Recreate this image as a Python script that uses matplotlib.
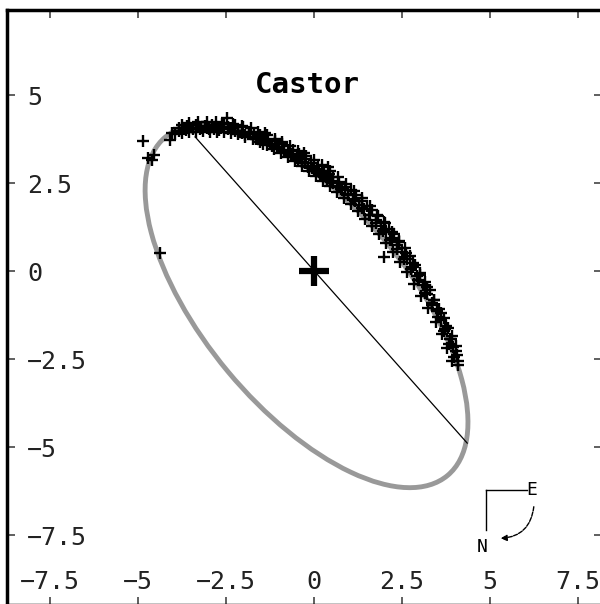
import matplotlib
matplotlib.use("Agg")
import matplotlib.pyplot as plt
from matplotlib.patches import Ellipse, FancyArrowPatch

# ---------------- data ----------------
title = "Castor"
xtick_values = [-7.5, -5, -2.5, 0, 2.5, 5, 7.5]
xtick_labels = ["\u22127.5", "\u22125", "\u22122.5", "0", "2.5", "5", "7.5"]
ytick_values = [-7.5, -5, -2.5, 0, 2.5, 5]
ytick_labels = ["\u22127.5", "\u22125", "\u22122.5", "0", "2.5", "5"]

# observed positions of the companion (arcsec)
obs_x_outer = [-4.86, -4.72, -4.55, -4.62, -4.38,
               -4.03, -4.09, -3.85, -3.70, -3.60, -3.45, -3.35, -3.20, -3.10, -3.00,
               -2.90, -2.80, -2.70, -2.62, -2.47, -2.45, -2.35, -2.25, -2.15, -2.02,
               -1.95, -1.85, -1.72, -1.65, -1.55, -1.45, -1.39, -1.30, -1.20, -1.12,
               -1.00, -0.92, -0.85, -0.75, -0.65, -0.60, -0.50, -0.42, -0.35, -0.25,
               -0.18, -0.08, 0.00, 0.10, 0.18, 0.28, 0.37, 0.42, 0.50, 0.55,
               0.65, 0.72, 0.80, 0.88, 0.95, 1.05, 1.10, 1.18, 1.28, 1.35,
               1.42, 1.50, 1.58, 1.65, 1.75, 1.82, 1.90, 1.98, 2.05, 2.12,
               2.20, 2.28, 2.35, 2.42, 2.50, 2.58, 2.65, 2.72, 2.80, 2.88,
               2.92, 3.00, 3.08, 3.15, 3.22, 3.28, 3.35, 3.42, 3.48, 3.55,
               3.60, 3.68, 3.72, 3.80, 3.85, 3.92, 3.95, 4.02, 4.05, 4.10,
               4.08, 2.00, 0.40, -0.30]
obs_y_outer = [3.69, 3.21, 3.30, 3.15, 0.51,
               3.92, 3.72, 4.05, 4.02, 4.12, 4.05, 4.15, 4.05, 4.12, 4.02,
               4.15, 4.08, 4.00, 4.18, 4.35, 4.10, 4.05, 4.15, 3.98, 4.10,
               3.85, 3.95, 3.90, 3.75, 3.85, 3.62, 3.92, 3.70, 3.55, 3.68,
               3.50, 3.60, 3.38, 3.45, 3.30, 3.45, 3.20, 3.32, 3.10, 3.18,
               2.95, 3.08, 2.88, 2.98, 2.75, 2.85, 2.62, 2.75, 2.55, 2.66,
               2.40, 2.52, 2.30, 2.40, 2.20, 2.30, 2.05, 2.15, 1.88, 2.00,
               1.75, 1.85, 1.60, 1.72, 1.45, 1.55, 1.28, 1.40, 1.10, 1.20,
               0.95, 1.05, 0.75, 0.85, 0.55, 0.65, 0.35, 0.42, 0.10, 0.18,
               -0.15, -0.05, -0.40, -0.30, -0.65, -0.55, -0.90, -0.82, -1.15, -1.08,
               -1.40, -1.35, -1.65, -1.62, -1.92, -1.85, -2.15, -2.12, -2.40, -2.55,
               -2.68, 0.40, 2.95, 3.35]

obs_x_outermost = [-3.75, -3.55, -3.30, -3.05, -2.80, -2.55, -2.30, -2.05, -1.80, -1.58,
                   -1.35, -1.12, -0.90, -0.68, -0.45, -0.22, 0.00, 0.22, 0.45, 0.68,
                   0.90, 1.12, 1.35, 1.58, 1.80, 2.02, 2.22, 2.42, 2.62, 2.82,
                   3.02, 3.22, 3.42, 3.60, 3.76, 3.90, 4.02]
obs_y_outermost = [4.15, 4.20, 4.22, 4.22, 4.22, 4.20, 4.18, 4.12, 4.05, 3.96,
                   3.86, 3.76, 3.66, 3.55, 3.42, 3.28, 3.14, 3.00, 2.84, 2.66,
                   2.48, 2.28, 2.07, 1.84, 1.60, 1.35, 1.10, 0.82, 0.52, 0.22,
                   -0.12, -0.46, -0.82, -1.18, -1.55, -1.92, -2.28]

obs_x_mid = [-3.85, -3.65, -3.45, -3.25, -3.05, -2.85, -2.65, -2.45, -2.25, -2.05,
             -1.85, -1.65, -1.45, -1.25, -1.05, -0.85, -0.65, -0.45, -0.25, -0.05,
             0.15, 0.35, 0.55, 0.75, 0.95, 1.15, 1.35, 1.55, 1.75, 1.95,
             2.15, 2.35, 2.55, 2.75, 2.95, 3.15, 3.35, 3.52, 3.68, 3.84, 3.98]
obs_y_mid = [3.98, 4.00, 4.02, 4.04, 4.05, 4.03, 4.05, 4.02, 3.98, 3.93,
             3.88, 3.80, 3.72, 3.62, 3.52, 3.42, 3.32, 3.19, 3.06, 2.93,
             2.80, 2.66, 2.50, 2.34, 2.17, 1.98, 1.79, 1.58, 1.36, 1.13,
             0.88, 0.62, 0.35, 0.05, -0.27, -0.62, -0.98, -1.32, -1.70, -2.08, -2.45]

obs_x_inner = [-3.95, -3.75, -3.55, -3.35, -3.15, -2.95, -2.75, -2.55, -2.35, -2.15,
               -1.95, -1.75, -1.55, -1.35, -1.15, -0.95, -0.75, -0.55, -0.35, -0.15,
               0.05, 0.25, 0.45, 0.65, 0.85, 1.05, 1.25, 1.45, 1.65, 1.85,
               2.05, 2.25, 2.45, 2.65, 2.85, 3.05, 3.25, 3.45, 3.62, 3.78, 3.92]
obs_y_inner = [3.88, 3.92, 3.95, 3.96, 3.97, 3.96, 3.95, 3.94, 3.92, 3.88,
               3.82, 3.75, 3.67, 3.57, 3.46, 3.35, 3.24, 3.12, 2.99, 2.85,
               2.71, 2.56, 2.41, 2.25, 2.08, 1.90, 1.70, 1.49, 1.27, 1.04,
               0.80, 0.54, 0.26, -0.04, -0.36, -0.70, -1.06, -1.44, -1.80, -2.18, -2.55]

# fitted apparent orbit (centre, full axes, angle in degrees)
orbit_center = (-0.215, -1.0)
orbit_width = 12.52
orbit_height = 5.81
orbit_angle = -50.2

# line of apsides end points
apsis_x = [-3.38, 4.35]
apsis_y = [3.81, -4.89]

# primary star
primary_x = [0.0]
primary_y = [0.0]

# ---------------- figure ----------------
fig = plt.figure(figsize=(6.0, 6.04), dpi=100)
ax = fig.add_axes([6.5 / 600, -1 / 604, (602 - 6.5) / 600, (605 - 10) / 604])
ax.set_xlim(-8.74, 8.18)
ax.set_ylim(-9.49, 7.415)

ell = Ellipse(orbit_center, orbit_width, orbit_height, angle=orbit_angle,
              fill=False, edgecolor="#999999", linewidth=3.5, zorder=2)
ax.add_patch(ell)
ax.plot(apsis_x, apsis_y, color="black", linewidth=0.9, zorder=3)
for xs, ys in ((obs_x_outer, obs_y_outer), (obs_x_outermost, obs_y_outermost),
               (obs_x_mid, obs_y_mid), (obs_x_inner, obs_y_inner)):
    ax.plot(xs, ys, linestyle="none", marker="+", markersize=8.8,
            markeredgewidth=1.7, color="black", zorder=4)
ax.plot(primary_x, primary_y, linestyle="none", marker="+", markersize=22,
        markeredgewidth=4.5, color="black", zorder=5)

# axes styling
for s in ax.spines.values():
    s.set_linewidth(2.5)
    s.set_color("black")
ax.set_xticks(xtick_values)
ax.set_yticks(ytick_values)
ax.tick_params(which="both", direction="in", length=5.5, width=1.2,
               color="#444444", top=True, right=True, bottom=True, left=True,
               labelbottom=False, labelleft=False)

mono = "DejaVu Sans Mono"
for t, lab in zip(xtick_values, xtick_labels):
    ax.text(t, -9.03, lab, ha="center", va="baseline", fontsize=18,
            family=mono, color="#222222")
for t, lab in zip(ytick_values, ytick_labels):
    ax.text(-8.15, t - 0.284, lab, ha="left", va="baseline", fontsize=18,
            family=mono, color="#222222")

ax.text(-0.18, 5.06, title, ha="center", va="baseline", fontsize=21,
        family=mono, fontweight="bold", color="black")

# orientation compass
ax.plot([4.89, 6.06], [-6.22, -6.22], color="black", linewidth=1.0)
ax.plot([4.89, 4.89], [-6.22, -7.36], color="black", linewidth=1.0)
ax.text(6.18, -6.22, "E", ha="center", va="center", fontsize=13, family=mono)
ax.text(4.77, -7.85, "N", ha="center", va="center", fontsize=13, family=mono)
arr = FancyArrowPatch((6.25, -6.62), (5.22, -7.6),
                      connectionstyle="arc3,rad=-0.45", arrowstyle="-|>",
                      mutation_scale=9, color="black", linewidth=1.0,
                      linestyle=(0, (3, 1)))
ax.add_patch(arr)

fig.savefig("out.png", dpi=100)
